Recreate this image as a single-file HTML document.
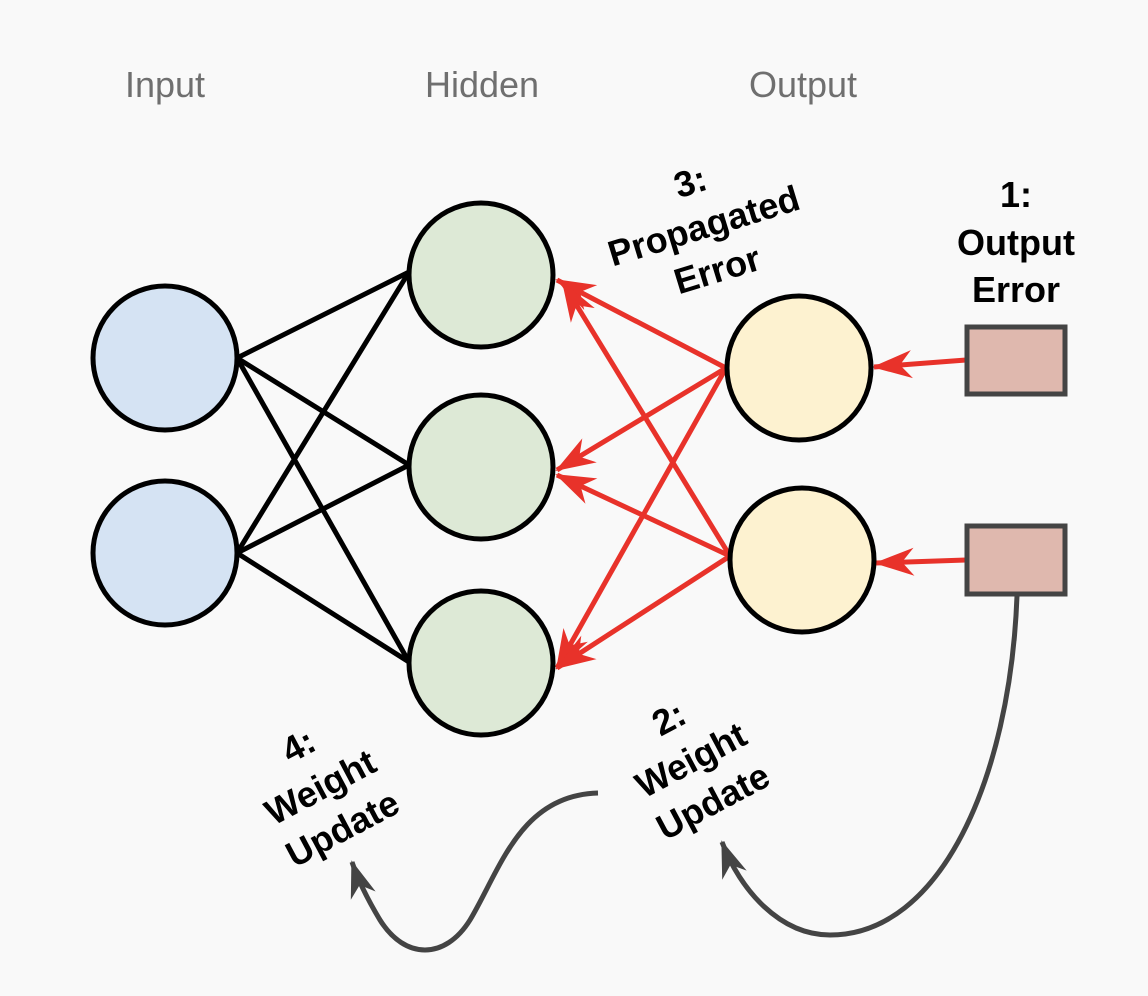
<!DOCTYPE html>
<html><head><style>
html,body{margin:0;padding:0;background:#f9f9f9;}
svg{display:block;}
text{font-family:"Liberation Sans",Arial,sans-serif;}
</style></head><body>
<svg width="1148" height="996" viewBox="0 0 1148 996">
<defs>
<marker id="ra" viewBox="0 0 40 30" refX="38" refY="15" markerWidth="40" markerHeight="30" orient="auto" markerUnits="userSpaceOnUse">
<path d="M0,1 L40,15 L0,29 L12,15 z" fill="#e8322a"/>
</marker>
<marker id="ga" viewBox="0 0 40 30" refX="38" refY="15" markerWidth="38" markerHeight="28" orient="auto" markerUnits="userSpaceOnUse">
<path d="M0,1 L40,15 L0,29 L12,15 z" fill="#444"/>
</marker>
</defs>
<rect width="1148" height="996" fill="#f9f9f9"/>
<g font-size="36" fill="#6f6f6f" text-anchor="middle">
<text x="165" y="97">Input</text>
<text x="482" y="97">Hidden</text>
<text x="803" y="97">Output</text>
</g>
<g stroke="#000" stroke-width="5">
<line x1="237" y1="358" x2="409" y2="272"/>
<line x1="237" y1="358" x2="409" y2="465"/>
<line x1="237" y1="358" x2="409" y2="662"/>
<line x1="237" y1="553" x2="409" y2="272"/>
<line x1="237" y1="553" x2="409" y2="465"/>
<line x1="237" y1="553" x2="409" y2="662"/>
</g>
<g stroke="#e8322a" stroke-width="5" fill="none" marker-end="url(#ra)">
<line x1="726" y1="368" x2="557" y2="280"/>
<line x1="726" y1="368" x2="557" y2="470"/>
<line x1="726" y1="368" x2="557" y2="668"/>
<line x1="730" y1="556" x2="563" y2="283"/>
<line x1="730" y1="556" x2="557" y2="475"/>
<line x1="730" y1="556" x2="557" y2="668"/>
<line x1="966" y1="360" x2="874" y2="367"/>
<line x1="966" y1="560" x2="876" y2="563"/>
</g>
<g stroke="#000" stroke-width="5">
<circle cx="165" cy="358" r="72" fill="#d5e3f3"/>
<circle cx="165" cy="553" r="72" fill="#d5e3f3"/>
<circle cx="481" cy="275" r="72" fill="#dde9d6"/>
<circle cx="481" cy="467" r="72" fill="#dde9d6"/>
<circle cx="481" cy="663" r="72" fill="#dde9d6"/>
<circle cx="799" cy="368" r="72" fill="#fdf2d0"/>
<circle cx="802" cy="560" r="72" fill="#fdf2d0"/>
</g>
<g stroke="#444" stroke-width="5" fill="#dfb8ae">
<rect x="967" y="327" width="98" height="67"/>
<rect x="967" y="526" width="98" height="68"/>
</g>
<g stroke="#444" stroke-width="5" fill="none" marker-end="url(#ga)">
<path d="M1017,596 C1010,780 940,935 830,935 C780,935 740,890 722,842"/>
<path d="M598,793 C520,795 500,870 470,920 C445,960 405,960 380,920 C368,900 358,880 352,862"/>
</g>
<g font-size="36" font-weight="bold" fill="#000" text-anchor="middle">
<text x="1016" y="207">1:</text>
<text x="1016" y="255">Output</text>
<text x="1016" y="302">Error</text>
<g transform="rotate(-17 705 230)">
<text x="705" y="192">3:</text>
<text x="705" y="238">Propagated</text>
<text x="705" y="284">Error</text>
</g>
<g transform="rotate(-28 692 762)">
<text x="692" y="725">2:</text>
<text x="692" y="772">Weight</text>
<text x="692" y="819">Update</text>
</g>
<g transform="rotate(-28 322 790)">
<text x="322" y="752">4:</text>
<text x="322" y="799">Weight</text>
<text x="322" y="846">Update</text>
</g>
</g>
</svg>
</body></html>
